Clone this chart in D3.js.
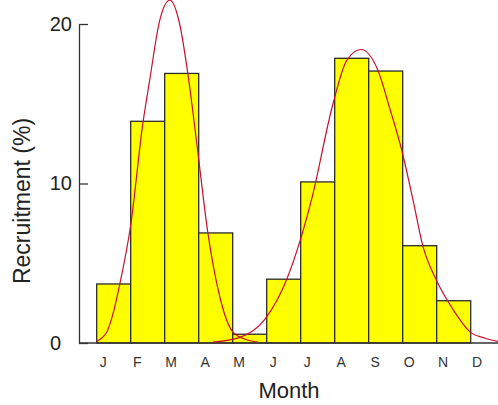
<!DOCTYPE html>
<html>
<head>
<meta charset="utf-8">
<script src="https://cdn.jsdelivr.net/npm/d3@7"></script>
<style>
  body { margin: 0; background: #fff; }
  svg { display: block; font-family: "Liberation Sans", Arial, sans-serif; }
</style>
</head>
<body>
<div id="chart"></div>
<script>
// monthly recruitment (%)
var months = ["J", "F", "M", "A", "M", "J", "J", "A", "S", "O", "N", "D"];
var recruitment = [3.7, 13.9, 16.9, 6.9, 0.55, 4.0, 10.1, 17.85, 17.05, 6.1, 2.65, 0];
var yTicks = [0, 10, 20];

// fitted curves (month position, %)
var fit1Pos = [0.0, 0.3, 0.5, 0.68, 1.0, 1.36, 1.56, 1.85, 2.15, 2.44, 2.68, 2.95, 3.27, 3.62, 4.0, 4.35, 4.75];
var fit1Val = [0.1, 0.7, 2.0, 3.7, 7.4, 13.8, 16.5, 20.2, 21.5, 20.0, 16.9, 12.4, 6.9, 2.9, 0.7, 0.25, 0.05];
var fit2Pos = [3.42, 4.21, 4.95, 5.59, 5.98, 6.32, 6.95, 7.35, 7.77, 8.27, 8.62, 8.97, 9.30, 9.59, 10.0, 10.48, 10.98, 11.42, 11.80];
var fit2Val = [0.05, 0.35, 1.5, 4.0, 6.4, 9.0, 15.0, 17.7, 18.4, 17.1, 14.7, 12.1, 9.0, 6.1, 3.9, 2.1, 0.7, 0.3, 0.1];

var width = 498;
var height = 405;
var axisX = 79;
var labelShift = 0.19; // month letters sit a bit right of each bar's left edge

var x = d3.scaleLinear().domain([0, 12]).range([96.7, 504.7]);
var y = d3.scaleLinear().domain([0, 20]).range([343, 24]);

var svg = d3.select("#chart")
     .append("svg")
     .attr("width", width)
     .attr("height", height);

// bars
svg.selectAll("rect.bar")
     .data(recruitment)
     .enter()
     .append("rect")
     .attr("class", "bar")
     .attr("x", function (d, i) { return x(i); })
     .attr("y", function (d) { return y(d); })
     .attr("width", x(1) - x(0))
     .attr("height", function (d) { return y(0) - y(d); })
     .style("fill", "#ffff00")
     .style("stroke", "#2a2a2a")
     .style("stroke-width", 1.3);

// y axis, ticks point inward
var yAxis = svg.append("g")
     .attr("transform", "translate(" + axisX + ",0)")
     .call(d3.axisLeft(y).tickValues(yTicks).tickSizeInner(-9).tickSizeOuter(0).tickPadding(7));
yAxis.select(".domain").attr("stroke", "#333").attr("stroke-width", 1.3);
yAxis.selectAll(".tick line").attr("stroke", "#333").attr("stroke-width", 1.3);
yAxis.selectAll(".tick text")
     .attr("fill", "#222")
     .style("font-size", "20px")
     .style("font-family", "Liberation Sans, Arial, sans-serif");
yAxis.selectAll(".tick text").filter(function (d) { return d === 0; })
     .attr("x", -18)
     .attr("dy", "0.3em");

// x baseline
svg.append("line")
     .attr("x1", axisX)
     .attr("x2", width)
     .attr("y1", y(0))
     .attr("y2", y(0))
     .attr("stroke", "#333")
     .attr("stroke-width", 1.3);

// month letters
svg.selectAll("text.month")
     .data(months)
     .enter()
     .append("text")
     .attr("class", "month")
     .attr("x", function (d, i) { return x(i + labelShift); })
     .attr("y", 367)
     .attr("text-anchor", "middle")
     .attr("fill", "#333")
     .style("font-size", "14px")
     .text(function (d) { return d; });

// fitted curves
var line = d3.line()
     .x(function (d) { return x(d[0]); })
     .y(function (d) { return y(d[1]); })
     .curve(d3.curveMonotoneX);

[d3.zip(fit1Pos, fit1Val), d3.zip(fit2Pos, fit2Val)].forEach(function (pts) {
     svg.append("path")
          .datum(pts)
          .attr("d", line)
          .attr("fill", "none")
          .attr("stroke", "#c8102e")
          .attr("stroke-width", 1.2);
});

// axis titles
svg.append("text")
     .attr("transform", "translate(30," + 201 + ") rotate(-90)")
     .attr("text-anchor", "middle")
     .attr("fill", "#222")
     .style("font-size", "23px")
     .text("Recruitment (%)");

svg.append("text")
     .attr("x", 289)
     .attr("y", 398)
     .attr("text-anchor", "middle")
     .attr("fill", "#222")
     .style("font-size", "22px")
     .text("Month");
</script>
</body>
</html>
